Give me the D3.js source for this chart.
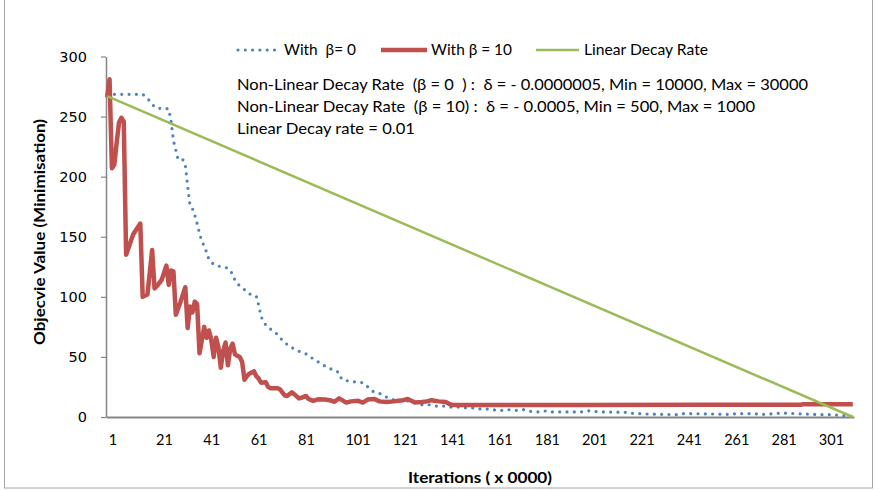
<!DOCTYPE html>
<html><head><meta charset="utf-8">
<script src="https://cdn.jsdelivr.net/npm/d3@7/dist/d3.min.js"></script>
<style>body{margin:0;background:#fff}svg{display:block}</style>
</head><body>
<svg id="c" width="878" height="490"></svg>
<script>
// ---------- data ----------
const xTickLabels = [1, 21, 41, 61, 81, 101, 121, 141, 161, 181, 201, 221, 241, 261, 281, 301];
const yTicks = [0, 50, 100, 150, 200, 250, 300];
const seriesNames = ["With  β= 0", "With β = 10", "Linear Decay Rate"];
const notes = [
  "Non-Linear Decay Rate  (β = 0  ) :  δ = - 0.0000005, Min = 10000, Max = 30000",
  "Non-Linear Decay Rate  (β = 10) :  δ = - 0.0005, Min = 500, Max = 1000",
  "Linear Decay rate = 0.01"
];
const xTitle = "Iterations ( x 0000)";
const yTitle = "Objecvie Value (Minimisation)";

// With β = 0 (blue, dotted)
const blueIter = [1, 16, 17, 19, 21, 22, 27, 28, 29, 30, 31, 33, 34, 35, 36, 37, 38, 39, 40, 41, 42, 43, 44, 46, 49, 52, 54, 55, 57, 59, 61, 64, 65, 66, 67, 69, 72, 74, 76, 78, 81, 83, 86, 88, 91, 93, 96, 99, 100, 103, 106, 109, 111, 113, 116, 119, 122, 125, 128, 131, 134, 137, 140, 143, 146, 149, 153, 156, 159, 162, 165, 168, 171, 174, 177, 180, 183, 186, 189, 201, 204, 207, 211, 220, 223, 229, 236, 242, 245, 247, 257, 264, 267, 273, 279, 286, 292, 296, 302, 308, 312, 316];
const blueVal  = [268.5, 268.5, 267, 263, 258, 257, 256.5, 246, 230, 222, 214, 214, 210, 192, 176, 173.5, 168, 161, 153, 146, 142.5, 137, 131, 127, 125, 124, 119, 113.6, 109, 106, 102.5, 100.6, 93, 84, 79, 74.5, 70.5, 66, 62, 59, 55.5, 54, 51.7, 48.3, 45, 42.4, 39.5, 37, 31.6, 29.8, 29.2, 28.5, 25.2, 21.5, 19.7, 16.5, 14.3, 13.5, 13.3, 11.9, 10.2, 10.2, 9.1, 9.1, 8.3, 8.3, 7.5, 7.5, 6.6, 6.6, 5.8, 5.5, 6.1, 5.5, 6.1, 4.7, 4.2, 5, 4.2, 4.2, 5.2, 4.6, 4.2, 3.9, 3.0, 2.5, 2.2, 1.9, 3.0, 2.8, 2.5, 2.2, 2.8, 2.8, 2.2, 3.3, 2.8, 2.5, 1.9, 1.9, 1.1, 0.5];

// With β = 10 (red)
const redIter = [1, 2, 3, 4, 5, 6, 7, 8, 9, 12, 15, 16, 18, 20, 21, 22, 24, 26, 27, 28, 29, 30, 32, 34, 35, 36, 37, 38, 39, 40, 42, 43, 44, 45, 46, 47, 48, 49, 50, 51, 52, 53, 54, 55, 56, 57, 58, 59, 60, 61, 63, 64, 65, 66, 68, 69, 70, 73, 74, 76, 77, 79, 80, 82, 83, 85, 86, 88, 90, 93, 95, 97, 99, 102, 104, 107, 109, 111, 114, 116, 119, 122, 124, 126, 128, 131, 134, 136, 138, 141, 144, 146, 147, 200, 250, 294, 295, 316];
const redVal  = [266, 281, 207, 210, 228, 245, 249, 246, 135, 152, 161, 100, 102, 139, 107, 109, 114, 126, 110, 122, 121, 85, 96, 108, 74, 92, 87, 96, 94, 53, 75, 66, 72, 64, 50, 66, 58, 41, 55, 62, 43, 57, 61, 52, 51, 50, 46, 31, 34, 36, 38, 34, 32, 28.5, 29, 25, 24, 24, 23, 18, 17.5, 20.5, 19, 15.5, 16, 17.5, 15, 13.5, 14.7, 14.5, 14, 12.7, 15.5, 12, 13, 13.5, 12, 14.5, 15, 13, 12.5, 13, 13.5, 14, 15, 12, 12.5, 13, 14, 13, 12.5, 10.5, 10, 10, 10.2, 10.2, 10.6, 10.6];

// Linear decay (green)
const greenIter = [1, 316];
const greenVal = [267, 0];

// ---------- drawing ----------
const svg = d3.select("#c");
const FONT = "Lato, 'Open Sans', sans-serif";
const x = d3.scaleLinear().domain([0.5, 316.5]).range([106, 854]);
const y = d3.scaleLinear().domain([0, 300]).range([417, 56.5]);

// chart border
svg.append("rect").attr("x", 4.5).attr("y", -2).attr("width", 868).attr("height", 490)
  .attr("fill", "none").attr("stroke", "#a6a6a6").attr("stroke-width", 1);

// y axis
const gy = svg.append("g").attr("transform", "translate(106,0)")
  .call(d3.axisLeft(y).tickValues(yTicks).tickSize(5).tickSizeOuter(0).tickPadding(14));
gy.select(".domain").attr("stroke", "#868686").attr("stroke-width", 1.5);
gy.selectAll(".tick line").attr("stroke", "#868686").attr("stroke-width", 1.2);
gy.selectAll(".tick text").attr("font-family", "'DejaVu Sans', sans-serif").attr("font-size", 14.5).attr("fill", "#000");

// x axis
const gx = svg.append("g").attr("transform", "translate(0,417)")
  .call(d3.axisBottom(x).tickValues(xTickLabels).tickSize(0).tickSizeOuter(0));
gx.select(".domain").attr("stroke", "#868686").attr("stroke-width", 2.2);
gx.selectAll(".tick text").attr("font-family", FONT).attr("font-size", 14.5).attr("fill", "#000")
  .attr("text-anchor", "start").attr("x", 1).attr("y", 28).attr("dy", 0);

// series
const line = d3.line().x(d => x(d[0])).y(d => y(d[1])).curve(d3.curveLinear);
const bluePts = d3.zip(blueIter, blueVal);
const redPts = d3.zip(redIter, redVal);
const greenPts = d3.zip(greenIter, greenVal);

svg.append("path").datum(bluePts).attr("d", line).attr("fill", "none")
  .attr("stroke", "#4F81BD").attr("stroke-width", 3.2).attr("stroke-linecap", "round")
  .attr("stroke-dasharray", "0 7.3");
svg.append("path").datum(redPts).attr("d", line).attr("fill", "none")
  .attr("stroke", "#C0504D").attr("stroke-width", 4.5).attr("stroke-linejoin", "round");
svg.append("path").datum(greenPts).attr("d", line).attr("fill", "none")
  .attr("stroke", "#9BBB59").attr("stroke-width", 2.5);

// legend
const leg = svg.append("g");
const legItems = [
  {x0: 238, x1: 278, tx: 284, tl: 72, color: "#4F81BD", w: 3.2, dash: "0 7.3"},
  {x0: 381, x1: 427, tx: 431, tl: 81, color: "#C0504D", w: 4.5, dash: null},
  {x0: 536, x1: 579, tx: 584, tl: 124, color: "#9BBB59", w: 2.5, dash: null}
];
legItems.forEach((it, i) => {
  const l = leg.append("line").attr("x1", it.x0).attr("x2", it.x1).attr("y1", 50).attr("y2", 50)
    .attr("stroke", it.color).attr("stroke-width", it.w).attr("stroke-linecap", it.dash ? "round" : "butt");
  if (it.dash) l.attr("stroke-dasharray", it.dash);
  leg.append("text").attr("x", it.tx).attr("y", 55).text(seriesNames[i])
    .attr("font-family", FONT).attr("font-size", 15).attr("fill", "#000")
    .style("white-space", "pre").attr("textLength", it.tl).attr("lengthAdjust", "spacingAndGlyphs");
});

// notes
const noteLen = [571, 518, 178];
const noteY = [90, 111.5, 134];
notes.forEach((t, i) => {
  svg.append("text").attr("x", 237).attr("y", noteY[i]).text(t)
    .attr("font-family", FONT).attr("font-size", 15).attr("fill", "#000")
    .style("white-space", "pre").attr("textLength", noteLen[i]).attr("lengthAdjust", "spacingAndGlyphs");
});

// axis titles
svg.append("text").attr("x", 480).attr("y", 483).attr("text-anchor", "middle").text(xTitle)
  .attr("font-family", FONT).attr("font-weight", "bold").attr("font-size", 15).attr("fill", "#000")
  .attr("textLength", 144).attr("lengthAdjust", "spacingAndGlyphs");
svg.append("text").attr("transform", "translate(45,232) rotate(-90)").attr("text-anchor", "middle").text(yTitle)
  .attr("font-family", FONT).attr("font-weight", "bold").attr("font-size", 15.5).attr("fill", "#000")
  .attr("textLength", 226).attr("lengthAdjust", "spacingAndGlyphs");
</script>
</body></html>
